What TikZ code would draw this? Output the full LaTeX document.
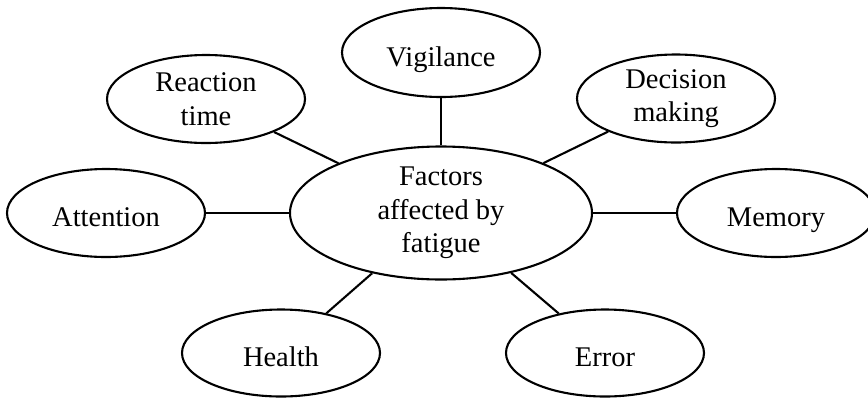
\documentclass[tikz,border=0pt]{standalone}
\usepackage{fontspec}
\setmainfont{Liberation Serif}
\usetikzlibrary{shapes.geometric}
\begin{document}
\begin{tikzpicture}[x=1pt,y=-1pt,
  bubble/.style={draw,ellipse,line width=2.1pt,inner sep=0pt,minimum width=198pt,minimum height=88pt,align=center,font=\fontsize{28.5}{33.5}\selectfont},
  oneline/.style={text height=27pt,text depth=0pt},
  link/.style={line width=2.1pt}]
\useasboundingbox (0,0) rectangle (868,397);
\fill[white] (0,0) rectangle (868,397);
\clip (0,0) rectangle (868,397);
\node[bubble,minimum width=302pt,minimum height=133pt] (c) at (441,213) {Factors\\affected by\\fatigue};
\node[bubble,oneline,minimum height=89pt] (vig) at (441,52.5) {Vigilance};
\node[bubble] (rt) at (206,99) {Reaction\\time};
\node[bubble] (dm) at (676,98.5) {Decision\\making};
\node[bubble,oneline] (att) at (106,213) {Attention};
\node[bubble,oneline] (mem) at (776,213) {Memory};
\node[bubble,oneline,minimum height=87pt] (hl) at (281,353) {Health};
\node[bubble,oneline,minimum height=87pt] (er) at (605,353) {Error};
\draw[link] (c) -- (vig);
\draw[link] (c) -- (rt);
\draw[link] (c) -- (dm);
\draw[link] (c) -- (att);
\draw[link] (c) -- (mem);
\draw[link] (c) -- (hl);
\draw[link] (c) -- (er);
\end{tikzpicture}
\end{document}
